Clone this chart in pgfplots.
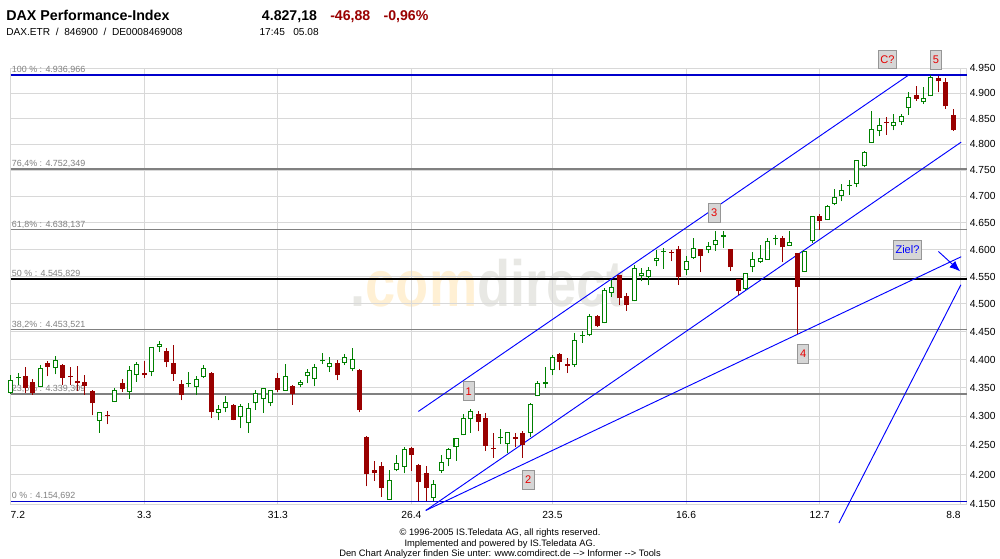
\documentclass[border=0pt]{standalone}
\usepackage{fontspec}
\setmainfont{Liberation Sans}
\usepackage{graphicx}
\usepackage{pgfplots}
\usepackage{pgfplotstable}
\pgfplotsset{compat=1.18}
\usetikzlibrary{arrows.meta}

\definecolor{cgreen}{RGB}{0,128,0}
\definecolor{cred}{RGB}{153,0,0}
\definecolor{gridc}{RGB}{216,216,216}
\definecolor{fibgray}{RGB}{128,128,128}
\definecolor{fibblue}{RGB}{0,0,204}
\definecolor{tblue}{RGB}{0,0,255}
\definecolor{wmo}{RGB}{255,240,212}
\definecolor{wmg}{RGB}{232,232,228}
\definecolor{boxfill}{RGB}{214,214,214}
\definecolor{boxline}{RGB}{150,150,150}
\definecolor{lred}{RGB}{230,0,0}

% green candles, hollow body
\pgfplotstableread{
x o h l c
0 4341 4373 4339 4364
4 4352 4391 4352 4385
6 4385 4407 4374 4400
12 4292 4308 4272 4308
14 4325 4350 4325 4346
16 4342.5 4388 4331 4381
17 4372.5 4395 4361 4392.5
19 4378 4422.5 4370 4422
20 4422 4434 4414 4427.5
25 4351 4370 4338 4365
26 4369 4391 4367 4385
28 4306 4320 4293 4313
29 4314.5 4336 4307 4325.6
31 4299 4322 4279 4318.6
32 4288 4324 4272 4314.5
33 4323 4347 4312 4341
34 4330 4350 4306 4349.5
35 4323 4346.5 4317.5 4346
37 4345 4392.5 4345 4371
39 4355 4364 4351 4361
40 4370 4383 4358 4378
41 4365 4392.5 4352.5 4386.6
43 4386 4405 4378 4394
45 4394 4410 4390 4404
46 4383 4421 4379 4401
51 4157.6 4208.5 4157 4191
52 4207.4 4234 4205.7 4219.8
53 4213 4248 4202 4244
57 4160.4 4190.5 4154.7 4183.3
58 4206 4234 4203 4221.5
59 4226.6 4245.4 4214 4243.7
60 4247 4263.5 4224 4262.6
61 4267 4305 4267 4297
62 4295 4313 4272 4309
67 4252 4273.5 4237 4273
70 4271 4323.5 4265 4321.5
71 4335 4362.5 4335 4358.4
73 4382 4408.5 4372 4404
76 4390 4448 4386.6 4434.7
78 4443.4 4482.4 4441.6 4478.8
80 4465.5 4529 4465 4526
81 4520 4544 4512.6 4531
84 4504.7 4572 4504.7 4565.8
85 4550.5 4565.8 4541.3 4556.6
86 4549.3 4567.7 4533.9 4562.7
87 4578.2 4599.8 4568.9 4584.3
91 4562.7 4588.6 4552.3 4579.4
92 4584.3 4621.5 4583 4603
94 4598.5 4614.7 4593.6 4605.9
95 4607.8 4635.2 4598 4618.4
99 4528 4557 4526 4556.6
100 4567.7 4596 4557.8 4583
101 4577 4608.5 4575 4585
102 4581.3 4621.5 4581.3 4616
105 4607.2 4635.2 4607.2 4614
107 4558.5 4598 4558.5 4597.9
108 4615.4 4663.4 4612.3 4663.4
110 4655 4683 4655 4681.3
111 4685.7 4714.8 4683 4699
112 4700 4724 4690.7 4711.6
114 4724.3 4770.3 4717.3 4770.3
115 4757.5 4786.4 4755.6 4785
116 4802.5 4865.7 4802.5 4830
117 4826.5 4851 4815.4 4837
119 4835 4859.7 4827 4844
120 4842.8 4859.7 4838.3 4854.5
121 4871 4901.8 4857.7 4892.6
123 4882 4912.4 4878.7 4890.6
124 4894 4936.97 4894 4932.3
}\greenH

% green candles, small solid body
\pgfplotstableread{
x o h l c
1 4367 4376 4355 4368.6
24 4356.7 4378 4351 4359
42 4396.7 4412 4392 4399
66 4262 4278 4252 4264.3
72 4356.7 4386 4349 4359.6
77 4441.6 4450.5 4429.6 4443.4
88 4595.4 4603 4564.6 4597.9
96 4623.4 4635.2 4603 4627.1
103 4619.6 4627.8 4607.8 4621.5
113 4719.2 4732 4703 4721.1
}\greenS

% red candles
\pgfplotstableread{
x o h l c
2 4371 4386 4341 4350
3 4361 4366 4338 4341
5 4394 4398 4370 4387
7 4391 4392 4355 4368
8 4370 4387 4355 4368.4
9 4362.5 4389 4344 4358
10 4361 4372 4338 4354
11 4345 4347 4302 4323
13 4303 4310 4286 4301.5
15 4359 4365 4343 4348
18 4377 4398 4368 4372
21 4416 4420.5 4386 4395
22 4394 4426 4362.5 4375
23 4357 4364 4328 4338
27 4377 4377.5 4298 4307
30 4320 4322 4293 4294
36 4367 4376 4342 4347
38 4354 4355.5 4320 4340
44 4394 4400 4363 4372
47 4381 4384 4307 4310.5
48 4265 4265.5 4180 4201
49 4208 4224 4189 4202
50 4214 4221 4163 4177
54 4245 4246.5 4207 4233
55 4217 4217.5 4156 4187
56 4203 4214 4156 4177
63 4305 4309 4274 4291
64 4297 4306 4241 4249
65 4245.4 4271 4229 4243.7
68 4264 4271 4247 4261
69 4271 4275 4229 4250
74 4410 4412 4381 4395.5
75 4392.5 4402.6 4376 4389
79 4478.8 4479.3 4458.3 4459.5
82 4553 4553.5 4498.7 4510
83 4514 4520 4488 4497.5
89 4595.4 4599.8 4578.2 4593.8
90 4601.6 4606 4535 4548.7
93 4601.6 4602 4557.8 4587.4
97 4601.6 4602 4559.7 4567
98 4546 4546.5 4515.7 4523
104 4621 4624.7 4576.3 4604
106 4593.6 4594 4446 4530.3
109 4662.5 4666.8 4637.5 4653
118 4844 4853 4818.6 4841.5
122 4896.5 4913.7 4885.4 4888.6
125 4930.3 4935 4901.8 4923.6
126 4922.3 4930.3 4869.6 4874.06
127 4856.4 4869.6 4826 4827.18
}\redC

\pgfplotsset{candle/.style={draw=none, mark=none, forget plot,
  error bars/y dir=plus, error bars/y explicit, error bars/error mark=none}}

\begin{document}
\begin{tikzpicture}
\begin{scope}[x=0.75pt,y=-0.75pt]
\path[use as bounding box] (0,0) rectangle (1000,558);
% watermark
\node[anchor=base west, inner sep=0pt, font=\fontsize{49}{49}\selectfont\bfseries] at (350.5,306)
  {\scalebox{0.83}[1]{\textcolor{wmg}{.}\textcolor{wmo}{com}\textcolor{wmg}{direct}}};
% header
\node[anchor=base west, inner sep=0pt, font=\fontsize{10.7}{12}\selectfont\bfseries] at (6,20) {DAX Performance-Index};
\node[anchor=base west, inner sep=0pt, font=\fontsize{10.6}{12}\selectfont\bfseries] at (261.7,20) {4.827,18};
\node[anchor=base west, inner sep=0pt, font=\fontsize{10.6}{12}\selectfont\bfseries, text=cred] at (330,20) {-46,88};
\node[anchor=base west, inner sep=0pt, font=\fontsize{10.6}{12}\selectfont\bfseries, text=cred] at (383.3,20) {-0,96\%};
\node[anchor=base west, inner sep=0pt, font=\fontsize{7.6}{9}\selectfont] at (6,35) {DAX.ETR\ \ /\ \ 846900\ \ /\ \ DE0008469008};
\node[anchor=base west, inner sep=0pt, font=\fontsize{7.6}{9}\selectfont] at (259.3,35) {17:45\ \ \ 05.08};
% footer
\node[anchor=base, inner sep=0pt, font=\fontsize{7}{8}\selectfont] at (500,535.7) {© 1996-2005 IS.Teledata AG, all rights reserved.};
\node[anchor=base, inner sep=0pt, font=\fontsize{7}{8}\selectfont] at (500,546) {Implemented and powered by IS.Teledata AG.};
\node[anchor=base, inner sep=0pt, font=\fontsize{7}{8}\selectfont] at (500,556) {Den Chart Analyzer finden Sie unter: www.comdirect.de -\kern0pt-> Informer -\kern0pt-> Tools};
\end{scope}

\begin{axis}[
  at={(8.025pt,-378.375pt)}, anchor=south west,
  scale only axis, width=717.2pt, height=327pt,
  xmin=0, xmax=128.85, ymin=4150, ymax=4950, ymode=log,
  clip=false,
  axis line style={draw=gridc, line width=0.75pt},
  xtick={0,18,36,54,73,91,109,128},
  xticklabels={\makebox[0pt][l]{7.2},3.3,31.3,26.4,23.5,16.6,12.7,\makebox[0pt][r]{8.8}},
  ytick={4150,4200,4250,4300,4350,4400,4450,4500,4550,4600,4650,4700,4750,4800,4850,4900,4950},
  yticklabels={4.150,4.200,4.250,4.300,4.350,4.400,4.450,4.500,4.550,4.600,4.650,4.700,4.750,4.800,4.850,4.900,4.950},
  yticklabel pos=right,
  major tick length=0pt,
  grid=major, major grid style={draw=gridc, line width=0.75pt},
  tick label style={font=\fontsize{7.7}{9}\selectfont, text=black},
  xticklabel style={anchor=north, inner sep=0pt, yshift=-5pt},
  yticklabel style={anchor=west, inner sep=0pt, xshift=1.9pt},
]
% Fibonacci levels
\addplot[fibblue, line width=1.2pt, forget plot] coordinates {(0,4936.966) (128.85,4936.966)};
\addplot[fibgray, line width=1pt, forget plot] coordinates {(0,4752.349) (128.85,4752.349)};
\addplot[fibgray, line width=1pt, forget plot] coordinates {(0,4638.137) (128.85,4638.137)};
\addplot[black, line width=1.1pt, forget plot] coordinates {(0,4545.829) (128.85,4545.829)};
\addplot[fibgray, line width=1pt, forget plot] coordinates {(0,4453.521) (128.85,4453.521)};
\addplot[fibgray, line width=1pt, forget plot] coordinates {(0,4339.309) (128.85,4339.309)};
\addplot[fibblue, line width=1.2pt, forget plot] coordinates {(0,4154.692) (128.85,4154.692)};
\begin{scope}[every node/.style={anchor=base west, inner sep=0pt, text=fibgray, font=\fontsize{6.7}{8}\selectfont}]
\node at (axis cs:0.13,4936.966) [yshift=1.6pt] {100 \% : 4.936,966};
\node at (axis cs:0.13,4752.349) [yshift=1.6pt] {76,4\% : 4.752,349};
\node at (axis cs:0.13,4638.137) [yshift=1.6pt] {61,8\% : 4.638,137};
\node at (axis cs:0.13,4545.829) [yshift=1.6pt] {50 \% : 4.545,829};
\node at (axis cs:0.13,4453.521) [yshift=1.6pt] {38,2\% : 4.453,521};
\node at (axis cs:0.13,4339.309) [yshift=1.6pt] {23,6\% : 4.339,309};
\node at (axis cs:0.13,4154.692) [yshift=1.9pt] {0 \% : 4.154,692};
\end{scope}
% trend lines
\addplot[tblue, line width=0.7pt, forget plot] coordinates {(54.93,4308.6) (121.06,4937)};
\addplot[tblue, line width=0.7pt, forget plot] coordinates {(55.93,4139.6) (128.07,4804.4)};
\addplot[tblue, line width=0.7pt, forget plot] coordinates {(55.93,4139.6) (128.07,4586.7)};
\addplot[tblue, line width=0.7pt, forget plot] coordinates {(111.59,4118.6) (128.03,4535.1)};
\addplot[tblue, line width=0.7pt, forget plot, -{Latex[length=8pt,width=6.5pt]}] coordinates {(125.0,4596.6) (127.94,4559.6)};
% wicks
\addplot[candle, error bars/error bar style={line width=0.75pt, draw=cgreen}]
  table[x=x, y=l, y error plus expr=\thisrow{h}-\thisrow{l}] {\greenH};
\addplot[candle, error bars/error bar style={line width=0.75pt, draw=cgreen}]
  table[x=x, y=l, y error plus expr=\thisrow{h}-\thisrow{l}] {\greenS};
\addplot[candle, error bars/error bar style={line width=0.75pt, draw=cred}]
  table[x=x, y=l, y error plus expr=\thisrow{h}-\thisrow{l}] {\redC};
% bodies
\addplot[candle, error bars/error bar style={line width=3.75pt, draw=cred}]
  table[x=x, y=c, y error plus expr=\thisrow{o}-\thisrow{c}] {\redC};
\addplot[candle, error bars/error bar style={line width=3.75pt, draw=cgreen}]
  table[x=x, y=o, y error plus expr=\thisrow{c}-\thisrow{o}] {\greenS};
\addplot[candle, error bars/error bar style={line width=3.75pt, draw=cgreen}]
  table[x=x, y=o, y error plus expr=\thisrow{c}-\thisrow{o}] {\greenH};
\addplot[candle, error bars/error bar style={line width=2.25pt, draw=white, shorten <=0.75pt, shorten >=0.75pt}]
  table[x=x, y=o, y error plus expr=\thisrow{c}-\thisrow{o}] {\greenH};
\end{axis}

\begin{scope}[x=0.75pt,y=-0.75pt]
\tikzset{lbox/.style={fill=boxfill, draw=boxline, line width=0.75pt},
         ltxt/.style={inner sep=0pt, text=lred, font=\fontsize{8.3}{9}\selectfont}}
\draw[lbox] (463.3,381.7) rectangle (474.3,400.7); \node[ltxt] at (468.8,391.2) {1};
\draw[lbox] (522.3,470.7) rectangle (534,489.3);   \node[ltxt] at (528.2,480) {2};
\draw[lbox] (708.3,203.3) rectangle (720,222.7);   \node[ltxt] at (714.2,213) {3};
\draw[lbox] (797.7,344) rectangle (808.7,363.3);   \node[ltxt] at (803.2,353.7) {4};
\draw[lbox] (878.3,50) rectangle (896.7,68.3);     \node[ltxt] at (887.5,59.2) {C?};
\draw[lbox] (930,50) rectangle (941.7,69.3);       \node[ltxt] at (935.9,59.7) {5};
\draw[lbox] (893.3,240) rectangle (921.7,259.3);   \node[ltxt, text=tblue] at (907.5,249.7) {Ziel?};
\end{scope}
\end{tikzpicture}
\end{document}
